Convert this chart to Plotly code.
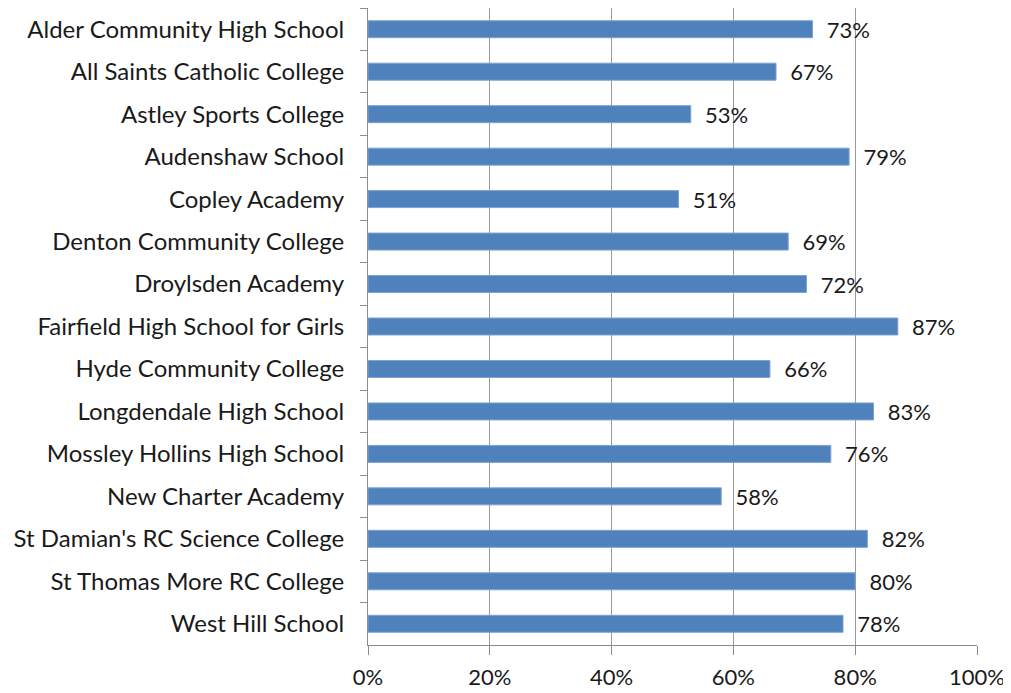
import plotly.graph_objects as go

schools = [
    "Alder Community High School",
    "All Saints Catholic College",
    "Astley Sports College",
    "Audenshaw School",
    "Copley Academy",
    "Denton Community College",
    "Droylsden Academy",
    "Fairfield High School for Girls",
    "Hyde Community College",
    "Longdendale High School",
    "Mossley Hollins High School",
    "New Charter Academy",
    "St Damian's RC Science College",
    "St Thomas More RC College",
    "West Hill School",
]
values = [0.73, 0.67, 0.53, 0.79, 0.51, 0.69, 0.72, 0.87, 0.66, 0.83, 0.76, 0.58, 0.82, 0.80, 0.78]
x_ticks = [0, 0.2, 0.4, 0.6, 0.8, 1.0]
x_tick_labels = ["0%", "20%", "40%", "60%", "80%", "100%"]

FONT = "Lato"

fig = go.Figure(
    go.Bar(
        x=values,
        y=schools,
        orientation="h",
        marker=dict(color="#4F81BD", line=dict(color="#7EA3D3", width=1)),
        text=values,
        texttemplate="\u00a0\u00a0%{x:.0%}",
        textposition="outside",
        constraintext="none",
        textfont=dict(family=FONT, size=22, color="#1a1a1a"),
        cliponaxis=False,
    )
)

fig.update_layout(
    width=1011,
    height=693,
    margin=dict(l=360, r=42, t=0, b=56, autoexpand=False),
    paper_bgcolor="white",
    plot_bgcolor="white",
    bargap=0.6,
    showlegend=False,
    font=dict(family=FONT, size=22, color="#1a1a1a"),
)

fig.update_xaxes(
    range=[0, 1],
    tickvals=x_ticks,
    ticktext=x_tick_labels,
    showgrid=True,
    gridcolor="#9a9a9a",
    gridwidth=1,
    zeroline=False,
    showline=True,
    linecolor="#8c8c8c",
    ticks="outside",
    ticklen=9,
    tickcolor="#8c8c8c",
    ticklabelstandoff=4,
    tickfont=dict(family=FONT, size=22, color="#1a1a1a"),
    automargin=False,
    fixedrange=True,
)

fig.update_yaxes(
    autorange="reversed",
    showgrid=False,
    zeroline=False,
    showline=True,
    linecolor="#8c8c8c",
    ticks="outside",
    tickson="boundaries",
    ticklen=7,
    tickcolor="#8c8c8c",
    ticklabelstandoff=18,
    tickfont=dict(family=FONT, size=24, color="#1a1a1a"),
    automargin=False,
    fixedrange=True,
)

fig.write_html("out.html")
